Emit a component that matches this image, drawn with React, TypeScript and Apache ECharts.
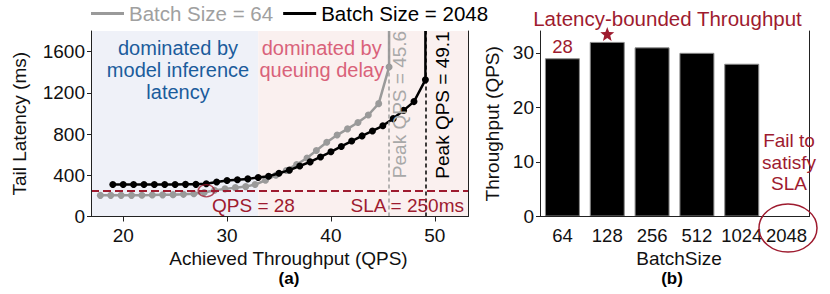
import { useEffect, useRef } from 'react';
import * as echarts from 'echarts';

// ---------- data ----------
const bs64QPS = [17.8, 18.8, 19.8, 20.8, 21.8, 22.8, 23.8, 24.8, 25.8, 26.8, 27.8, 28.8, 29.8, 30.8, 31.8, 32.7, 33.7, 34.7, 35.7, 36.7, 37.7, 38.6, 39.6, 40.6, 41.6, 42.6, 43.6, 44.6, 45.6];
const bs64Latency = [205, 205, 205, 205, 207, 208, 210, 212, 215, 220, 232, 255, 268, 280, 290, 310, 352, 400, 447, 505, 568, 640, 720, 790, 850, 912, 985, 1095, 1450];
const bs2048QPS = [19, 20, 21, 22, 23, 24, 25, 26, 27, 28, 29, 30, 31, 32, 33, 34, 35, 36, 37, 38, 39, 40, 41, 42, 43, 44, 45, 46, 47, 48, 49.1];
const bs2048Latency = [310, 310, 310, 310, 310, 310, 310, 312, 312, 318, 335, 350, 357, 365, 378, 390, 420, 450, 490, 530, 578, 628, 680, 732, 782, 830, 880, 950, 1030, 1115, 1326];
const peakQPS64 = 45.6;
const peakQPS2048 = 49.1;
const slaMs = 250;
const boundedQPS = 28;
const regionSplitQPS = 33;
const qpsMin = 16.9;
const qpsMax = 53.2;
const latencyMax = 1800;
const latencyTicks = [0, 400, 800, 1200, 1600];
const qpsTicks = [20, 30, 40, 50];

const batchSizes = ['64', '128', '256', '512', '1024', '2048'];
const boundedThroughput: (number | null)[] = [29, 32, 31, 30, 28, null];
const throughputMax = 34;
const throughputTicks = [0, 10, 20, 30];
const firstBarLabel = '28';
const bestBatch = '128';

// ---------- styles ----------
const FONT = '"Liberation Sans", Arial, Helvetica, sans-serif';
const RED = '#9e1b2f';
const GRAY = '#9a9a9a';
const BLUE_TXT = '#1b5c9c';
const PINK_TXT = '#d9627a';
const AXIS = '#222';
const STAR = 'path://M12,1 L14.9,8.6 L23,8.9 L16.7,14 L18.8,22 L12,17.5 L5.2,22 L7.3,14 L1,8.9 L9.1,8.6 Z';

function txt(x: number, y: number, text: string, fill: string, opts: any = {}) {
  const align = opts.align || 'center';
  const va = opts.va || 'middle';
  return {
    type: 'text',
    x,
    y,
    rotation: opts.rotation || 0,
    z: 100,
    silent: true,
    style: {
      text,
      fill,
      fontSize: opts.size || 19,
      fontFamily: FONT,
      fontWeight: opts.weight || 'normal',
      align,
      textAlign: align,
      verticalAlign: va,
      textVerticalAlign: va,
      lineHeight: opts.lineHeight,
    },
  };
}

export default function App() {
  const ref = useRef<HTMLDivElement>(null);
  useEffect(() => {
    if (!ref.current) return;
    const chart = echarts.init(ref.current, undefined, { renderer: 'svg' });
    const tickLabel = { fontSize: 19, fontFamily: FONT, color: '#111', formatter: (v: any) => String(v) };

    const option: any = {
      animation: false,
      textStyle: { fontFamily: FONT },
      grid: [
        { left: 91, right: 362, top: 31, bottom: 77.5 },
        { left: 540, right: 21, top: 31, bottom: 77.5 },
      ],
      legend: {
        left: 91,
        top: 3,
        padding: 0,
        itemWidth: 33,
        itemHeight: 3,
        itemGap: 10,
        icon: 'rect',
        textStyle: { fontSize: 20.5, fontFamily: FONT },
        data: [
          { name: 'Batch Size = 64', textStyle: { color: '#a0a0a0' } },
          { name: 'Batch Size = 2048', textStyle: { color: '#000' } },
        ],
      },
      xAxis: [
        {
          gridIndex: 0, type: 'value', min: qpsMin, max: qpsMax, z: 10,
          name: 'Achieved Throughput (QPS)', nameLocation: 'middle', nameGap: 27,
          nameTextStyle: { fontSize: 19, fontFamily: FONT, color: '#111', padding: [0, 0, 0, 18] },
          axisLine: { lineStyle: { color: AXIS, width: 1 } },
          axisTick: { length: 5, customValues: qpsTicks, lineStyle: { color: AXIS } },
          axisLabel: { ...tickLabel, margin: 9, customValues: qpsTicks },
          splitLine: { show: false },
        },
        {
          gridIndex: 0, type: 'value', min: qpsMin, max: qpsMax, position: 'top', z: 10,
          axisLine: { lineStyle: { color: AXIS, width: 1 } },
          axisTick: { show: false }, axisLabel: { show: false }, splitLine: { show: false },
        },
        {
          gridIndex: 1, type: 'category', data: batchSizes, z: 10,
          name: 'BatchSize', nameLocation: 'middle', nameGap: 27,
          nameTextStyle: { fontSize: 19, fontFamily: FONT, color: '#111', padding: [0, 0, 0, 9] },
          axisLine: { lineStyle: { color: AXIS, width: 1 } },
          axisTick: { alignWithLabel: true, length: 5, lineStyle: { color: AXIS } },
          axisLabel: { fontSize: 18.5, fontFamily: FONT, color: '#111', margin: 9, interval: 0 },
        },
        {
          gridIndex: 1, type: 'category', data: batchSizes, position: 'top', z: 10,
          axisLine: { lineStyle: { color: AXIS, width: 1 } },
          axisTick: { show: false }, axisLabel: { show: false },
        },
      ],
      yAxis: [
        {
          gridIndex: 0, type: 'value', min: 0, max: latencyMax, z: 10,
          name: 'Tail Latency (ms)', nameLocation: 'middle', nameGap: 62,
          nameTextStyle: { fontSize: 19, fontFamily: FONT, color: '#111' },
          axisLine: { show: true, lineStyle: { color: AXIS, width: 1 } },
          axisTick: { show: true, length: 4, customValues: latencyTicks, lineStyle: { color: AXIS } },
          axisLabel: { ...tickLabel, margin: 6, customValues: latencyTicks },
          splitLine: { show: false },
        },
        {
          gridIndex: 0, type: 'value', min: 0, max: latencyMax, position: 'right', z: 10,
          axisLine: { show: true, lineStyle: { color: AXIS, width: 1 } },
          axisTick: { show: false }, axisLabel: { show: false }, splitLine: { show: false },
        },
        {
          gridIndex: 1, type: 'value', min: 0, max: throughputMax, z: 10,
          name: 'Throughput (QPS)', nameLocation: 'middle', nameGap: 38,
          nameTextStyle: { fontSize: 19, fontFamily: FONT, color: '#111' },
          axisLine: { show: true, lineStyle: { color: AXIS, width: 1 } },
          axisTick: { show: true, length: 4, customValues: throughputTicks, lineStyle: { color: AXIS } },
          axisLabel: { ...tickLabel, margin: 6, customValues: throughputTicks },
          splitLine: { show: false },
        },
        {
          gridIndex: 1, type: 'value', min: 0, max: throughputMax, position: 'right', z: 10,
          axisLine: { show: true, lineStyle: { color: AXIS, width: 1 } },
          axisTick: { show: false }, axisLabel: { show: false }, splitLine: { show: false },
        },
      ],
      series: [
        {
          name: 'regions', type: 'line', xAxisIndex: 0, yAxisIndex: 0, data: [], z: 1, silent: true,
          markArea: {
            silent: true,
            data: [
              [{ xAxis: qpsMin, itemStyle: { color: '#eff1f8' } }, { xAxis: regionSplitQPS }],
              [{ xAxis: regionSplitQPS, itemStyle: { color: '#faf0ef' } }, { xAxis: qpsMax }],
            ],
          },
        },
        {
          name: 'Batch Size = 64', type: 'line', xAxisIndex: 0, yAxisIndex: 0, z: 3,
          color: GRAY, symbol: 'circle', symbolSize: 7, lineStyle: { width: 2.5, color: GRAY },
          itemStyle: { color: GRAY },
          data: [
            ...bs64QPS.map((x, i) => [x, bs64Latency[i]]),
            { value: [peakQPS64, latencyMax], symbol: 'none' },
          ],
        },
        {
          name: 'Batch Size = 2048', type: 'line', xAxisIndex: 0, yAxisIndex: 0, z: 4,
          color: '#000', symbol: 'circle', symbolSize: 7, lineStyle: { width: 2.5, color: '#000' },
          itemStyle: { color: '#000' },
          data: [
            ...bs2048QPS.map((x, i) => [x, bs2048Latency[i]]),
            { value: [peakQPS2048, latencyMax], symbol: 'none' },
          ],
        },
        {
          name: 'bounded', type: 'scatter', xAxisIndex: 0, yAxisIndex: 0, z: 6, silent: true,
          symbol: 'circle', symbolSize: [16, 12],
          itemStyle: { color: 'rgba(0,0,0,0)', borderColor: RED, borderWidth: 1.5 },
          data: [[boundedQPS, slaMs]],
          markLine: {
            silent: true, symbol: ['none', 'none'], label: { show: false },
            data: [
              { yAxis: slaMs, lineStyle: { color: RED, width: 2, type: [8, 4] } },
              { xAxis: peakQPS64, lineStyle: { color: '#a0a0a0', width: 1.5, type: [4, 3] } },
              { xAxis: peakQPS2048, lineStyle: { color: '#000', width: 1.5, type: [4, 3] } },
            ],
          },
        },
        {
          name: 'throughput', type: 'bar', xAxisIndex: 2, yAxisIndex: 2, barCategoryGap: '22%',
          itemStyle: { color: '#000', borderColor: '#8a8a8a', borderWidth: 1 },
          data: boundedThroughput.map((v, i) =>
            i === 0
              ? { value: v, label: { show: true, position: 'top', distance: 2, formatter: firstBarLabel, color: RED, fontSize: 18.5, fontFamily: FONT } }
              : v === null ? '-' : v
          ),
          markPoint: {
            silent: true,
            label: { show: false },
            data: [
              {
                coord: [bestBatch, boundedThroughput[batchSizes.indexOf(bestBatch)]],
                symbol: STAR, symbolSize: 14, symbolOffset: [0, -8],
                itemStyle: { color: RED },
              },
            ],
          },
        },
      ],
      graphic: [
        txt(178, 37.5, 'dominated by\nmodel inference\nlatency', BLUE_TXT, { va: 'top', lineHeight: 21.7, size: 20 }),
        txt(321.7, 37.5, 'dominated by\nqueuing delay', PINK_TXT, { va: 'top', lineHeight: 21.7, size: 20 }),
        txt(212, 205, 'QPS = 28', RED, { align: 'left' }),
        txt(464, 205, 'SLA = 250ms', RED, { align: 'right' }),
        txt(399, 104.5, 'Peak QPS = 45.6', '#a8a8a8', { rotation: Math.PI / 2 }),
        txt(442.5, 105, 'Peak QPS = 49.1', '#000', { rotation: Math.PI / 2 }),
        txt(289, 278, '(a)', '#000', { size: 17, weight: 'bold' }),
        txt(672, 278, '(b)', '#000', { size: 17, weight: 'bold' }),
        txt(667.5, 18, 'Latency-bounded Throughput', RED, { size: 20.5 }),
        txt(789, 130, 'Fail to\nsatisfy\nSLA', RED, { va: 'top', lineHeight: 21.5 }),
        {
          type: 'ellipse', z: 100, silent: true,
          shape: { cx: 788, cy: 228, rx: 29, ry: 24 },
          style: { fill: 'none', stroke: RED, lineWidth: 1.5 },
        },
      ],
    };
    chart.setOption(option);
    return () => chart.dispose();
  }, []);
  return (
    <div
      ref={ref}
      style={{ position: 'fixed', left: 0, top: 0, width: 830, height: 294, background: '#fff' }}
    />
  );
}
